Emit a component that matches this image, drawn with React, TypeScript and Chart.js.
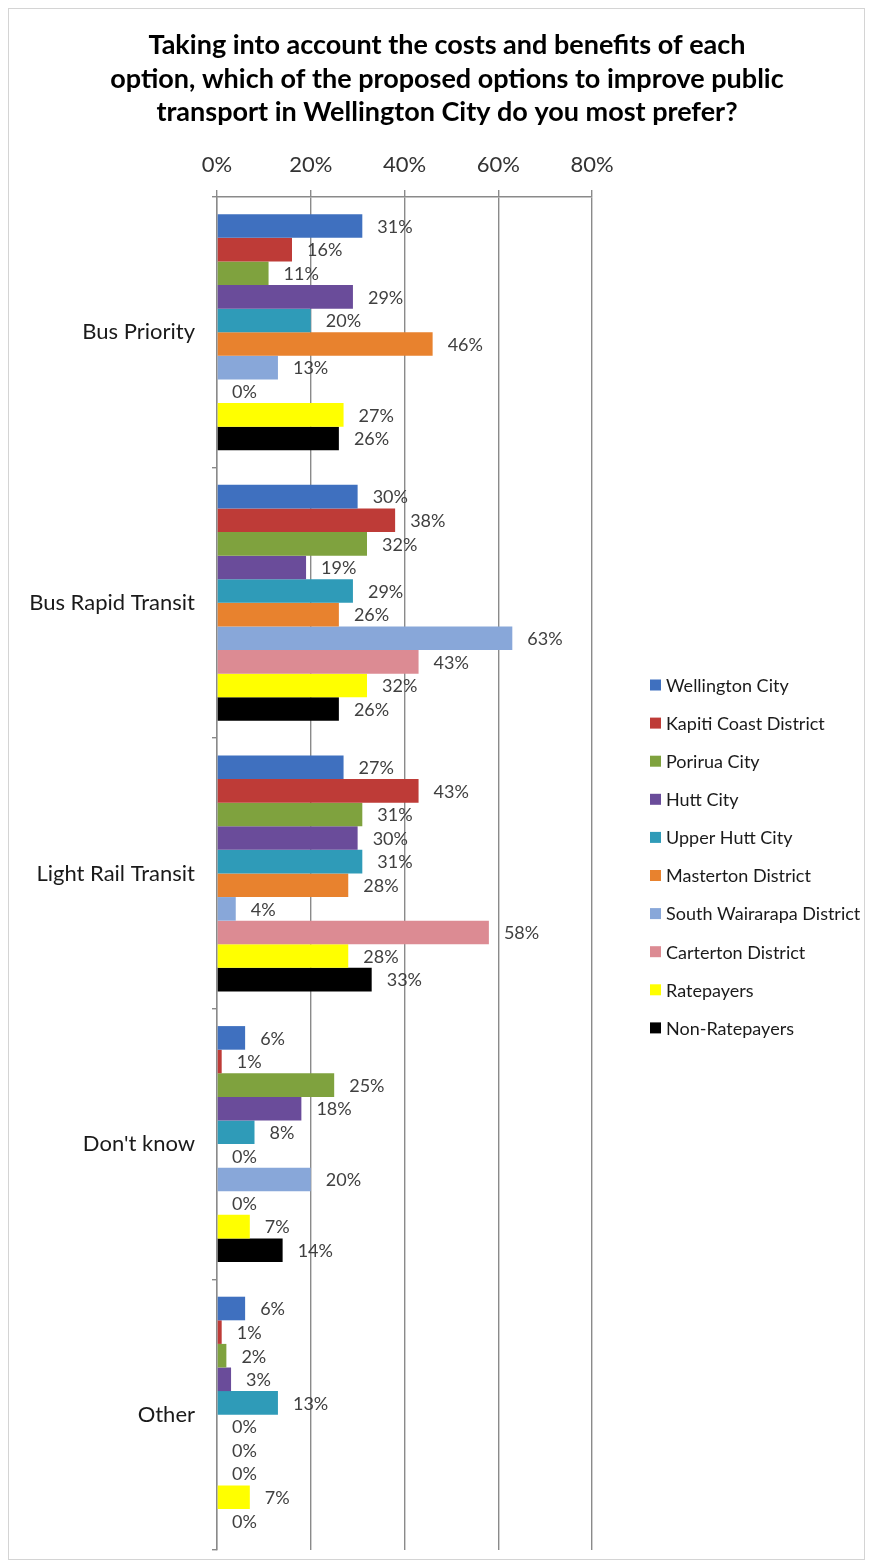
import React, { useEffect, useRef } from 'react';
import { Chart, registerables } from 'chart.js';

Chart.register(...registerables);

// ---- data ----
const categories = ['Bus Priority', 'Bus Rapid Transit', 'Light Rail Transit', "Don't know", 'Other'];
const seriesNames = [
  'Wellington City',
  'Kapiti Coast District',
  'Porirua City',
  'Hutt City',
  'Upper Hutt City',
  'Masterton District',
  'South Wairarapa District',
  'Carterton District',
  'Ratepayers',
  'Non-Ratepayers',
];
const wellingtonCity = [31, 30, 27, 6, 6];
const kapitiCoastDistrict = [16, 38, 43, 1, 1];
const poriruaCity = [11, 32, 31, 25, 2];
const huttCity = [29, 19, 30, 18, 3];
const upperHuttCity = [20, 29, 31, 8, 13];
const mastertonDistrict = [46, 26, 28, 0, 0];
const southWairarapaDistrict = [13, 63, 4, 20, 0];
const cartertonDistrict = [0, 43, 58, 0, 0];
const ratepayers = [27, 32, 28, 7, 7];
const nonRatepayers = [26, 26, 33, 14, 0];
const seriesValues = [
  wellingtonCity,
  kapitiCoastDistrict,
  poriruaCity,
  huttCity,
  upperHuttCity,
  mastertonDistrict,
  southWairarapaDistrict,
  cartertonDistrict,
  ratepayers,
  nonRatepayers,
];
const seriesColors = [
  '#3F70BF',
  '#BE3B37',
  '#7FA23E',
  '#6A4C9A',
  '#2F9BB8',
  '#E8822E',
  '#88A7D9',
  '#DC8B93',
  '#FFFF00',
  '#000000',
];
const xTickValues = [0, 20, 40, 60, 80];
const titleLines = [
  'Taking into account the costs and benefits of each',
  'option, which of the proposed options to improve public',
  'transport in Wellington City do you most prefer?',
];

const FONT = 'Lato, "Open Sans", sans-serif';

const dataLabelPlugin = {
  id: 'dataLabels',
  afterDatasetsDraw(chart: any) {
    const ctx = chart.ctx;
    ctx.save();
    ctx.font = `18px ${FONT}`;
    ctx.fillStyle = '#404040';
    ctx.textBaseline = 'middle';
    ctx.textAlign = 'left';
    chart.data.datasets.forEach((ds: any, i: number) => {
      const meta = chart.getDatasetMeta(i);
      meta.data.forEach((bar: any, j: number) => {
        ctx.fillText(`${ds.data[j]}%`, bar.x + 15, bar.y + 1);
      });
    });
    ctx.restore();
  },
};

const sideLegendPlugin = {
  id: 'sideLegend',
  afterDraw(chart: any) {
    const ctx = chart.ctx;
    const area = chart.chartArea;
    ctx.save();
    ctx.font = `18px ${FONT}`;
    ctx.textBaseline = 'middle';
    ctx.textAlign = 'left';
    const x0 = area.right + 58;
    const y0 = 676;
    const step = 38.1;
    chart.data.datasets.forEach((ds: any, i: number) => {
      const y = y0 + i * step;
      ctx.fillStyle = ds.backgroundColor;
      ctx.fillRect(x0, y - 5.5, 11, 11);
      ctx.fillStyle = '#1a1a1a';
      ctx.fillText(ds.label, x0 + 16, y + 1);
    });
    ctx.restore();
  },
};

export default function App() {
  const canvasRef = useRef<HTMLCanvasElement | null>(null);

  useEffect(() => {
    if (!canvasRef.current) return;
    const chart = new Chart(canvasRef.current, {
      type: 'bar',
      data: {
        labels: categories,
        datasets: seriesNames.map((name, i) => ({
          label: name,
          data: seriesValues[i],
          backgroundColor: seriesColors[i],
          borderWidth: 0,
          categoryPercentage: 0.872,
          barPercentage: 1.0,
        })),
      },
      options: {
        indexAxis: 'y',
        animation: false,
        responsive: true,
        maintainAspectRatio: false,
        layout: { padding: { left: 21, right: 0, top: 0, bottom: 9 } },
        plugins: {
          legend: { display: false },
          tooltip: { enabled: false },
          title: {
            display: true,
            text: titleLines,
            color: '#000000',
            font: { family: FONT, size: 27, weight: 'bold', lineHeight: 1.24 },
            padding: { top: 20, bottom: 10 },
          },
        },
        scales: {
          x: {
            position: 'top',
            min: 0,
            max: 80,
            afterBuildTicks: (s: any) => {
              s.ticks = xTickValues.map((v) => ({ value: v }));
            },
            afterFit: (s: any) => {
              s.height = 57.5;
            },
            ticks: {
              color: '#333333',
              font: { family: FONT, size: 22 },
              padding: 12,
              callback: (v: any) => `${v}%`,
              maxRotation: 0,
            },
            grid: {
              color: '#8a8a8a',
              lineWidth: 1.4,
              tickLength: 7,
              drawTicks: true,
            },
            border: { display: true, color: '#8a8a8a', width: 1.4 },
          },
          y: {
            position: 'left',
            afterFit: (s: any) => {
              s.width = 187;
              s.paddingTop = 0;
              s.paddingBottom = 0;
            },
            ticks: {
              color: '#1a1a1a',
              font: { family: FONT, size: 22 },
              padding: 17,
            },
            grid: {
              display: true,
              drawOnChartArea: false,
              drawTicks: true,
              tickLength: 5,
              offset: true,
              color: '#8a8a8a',
              lineWidth: 1.4,
            },
            border: { display: true, color: '#8a8a8a', width: 1.4 },
          },
          yRight: {
            type: 'category',
            position: 'right',
            display: true,
            afterFit: (s: any) => {
              s.width = 272;
              s.paddingTop = 0;
              s.paddingBottom = 0;
            },
            ticks: { display: false },
            grid: { display: false, drawTicks: false },
            border: { display: false },
          },
        },
      },
      plugins: [dataLabelPlugin, sideLegendPlugin],
    } as any);
    return () => chart.destroy();
  }, []);

  return (
    <div
      style={{
        width: 855,
        height: 1550,
        border: '1px solid #d4d4d4',
        position: 'relative',
        background: '#ffffff',
      }}
    >
      <canvas ref={canvasRef} style={{ display: 'block' }} />
    </div>
  );
}
